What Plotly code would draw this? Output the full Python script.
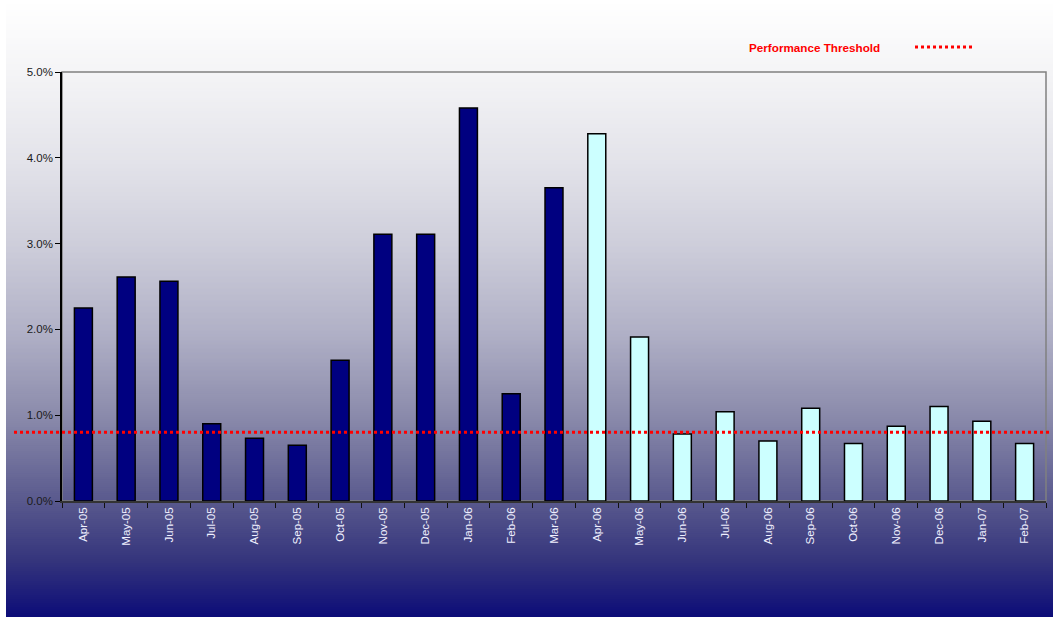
import numpy as np
import plotly.graph_objects as go

months = ["Apr-05", "May-05", "Jun-05", "Jul-05", "Aug-05", "Sep-05", "Oct-05", "Nov-05",
          "Dec-05", "Jan-06", "Feb-06", "Mar-06", "Apr-06", "May-06", "Jun-06", "Jul-06",
          "Aug-06", "Sep-06", "Oct-06", "Nov-06", "Dec-06", "Jan-07", "Feb-07"]
rates = [2.25, 2.61, 2.56, 0.90, 0.73, 0.65, 1.64, 3.11, 3.11, 4.58, 1.25, 3.65,
         4.28, 1.91, 0.78, 1.04, 0.70, 1.08, 0.67, 0.87, 1.10, 0.93, 0.67]
period = ["FY05"] * 12 + ["FY06"] * 11
threshold = 0.80
threshold_label = "Performance Threshold"
y_ticks = [0, 1, 2, 3, 4, 5]

period_colors = {"FY05": "#000080", "FY06": "#CCFFFF"}

W, H = 1053, 617
ML, MR, MT, MB = 62, 7, 72, 116

fig = go.Figure()
fig.add_trace(go.Bar(
    x=months, y=rates,
    marker=dict(color=[period_colors[p] for p in period],
                line=dict(color="#000000", width=1.5)),
    showlegend=False, hoverinfo="x+y",
))

shapes = []
# background gradient (white -> navy), drawn as thin overlapping stripes in paper coords
stops = np.array([
    [0.00, 255, 255, 255],
    [0.12, 244, 244, 246],
    [0.27, 226, 226, 233],
    [0.40, 205, 205, 218],
    [0.54, 176, 176, 198],
    [0.67, 140, 140, 172],
    [0.81, 90, 90, 142],
    [0.91, 52, 52, 124],
    [1.00, 12, 12, 120],
])
n = 309
ph = H - MT - MB
pw = W - ML - MR
x_left = (6 - ML) / pw
x_right = (W + 2 - ML) / pw
for i in range(n):
    f0 = i / n
    f1 = (i + 1) / n
    fm = (f0 + f1) / 2
    r = np.interp(fm, stops[:, 0], stops[:, 1])
    g = np.interp(fm, stops[:, 0], stops[:, 2])
    b = np.interp(fm, stops[:, 0], stops[:, 3])
    ytop = f0 * H
    ybot = min(f1 * H + 2, H + 2)
    shapes.append(dict(
        type="rect", xref="paper", yref="paper", layer="below",
        x0=x_left, x1=x_right,
        y0=(H - MB - ybot) / ph, y1=(H - MB - ytop) / ph,
        fillcolor=f"rgb({int(round(r))},{int(round(g))},{int(round(b))})", line=dict(width=0),
    ))

# plot-area border (gray)
shapes.append(dict(type="rect", xref="paper", yref="paper", layer="below",
                   x0=0, x1=1, y0=0, y1=1, line=dict(color="#808080", width=1.5),
                   fillcolor="rgba(0,0,0,0)"))

# threshold line
shapes.append(dict(type="line", xref="paper", yref="y", layer="above",
                   x0=(14 - ML) / pw, x1=(1051 - ML) / pw, y0=threshold, y1=threshold,
                   line=dict(color="#FF0000", width=3, dash="dot")))
# legend sample line
ly = (H - MB - 47) / ph
shapes.append(dict(type="line", xref="paper", yref="paper",
                   x0=(915 - ML) / pw, x1=(972 - ML) / pw, y0=ly, y1=ly,
                   line=dict(color="#FF0000", width=3, dash="dot")))

annotations = [dict(
    text=f"<b>{threshold_label}</b>", xref="paper", yref="paper",
    x=(814.5 - ML) / pw, y=ly, xanchor="center", yanchor="middle", showarrow=False,
    font=dict(family="Arial, Liberation Sans, sans-serif", size=11.7, color="#FF0000"),
)]

fig.update_layout(
    width=W, height=H,
    margin=dict(l=ML, r=MR, t=MT, b=MB),
    paper_bgcolor="#FFFFFF", plot_bgcolor="rgba(0,0,0,0)",
    bargap=0.58,
    shapes=shapes, annotations=annotations,
    font=dict(family="Arial, Liberation Sans, sans-serif", size=11, color="#222222"),
    xaxis=dict(
        type="category", tickangle=-90, showgrid=False, zeroline=False,
        showline=True, linecolor="#333333", linewidth=1.5,
        ticks="outside", ticklen=5, tickcolor="#111111", tickson="boundaries",
        tickfont=dict(color="#F0F0FF", size=11.5),
    ),
    yaxis=dict(
        range=[0, 5], tickvals=y_ticks, ticktext=[f"{v:.1f}%" for v in y_ticks],
        showgrid=False, zeroline=False,
        showline=True, linecolor="#000000", linewidth=1.5,
        ticks="outside", ticklen=5, tickcolor="#000000",
        tickfont=dict(color="#1a1a1a", size=11.5),
    ),
)

fig.write_html("out.html")
